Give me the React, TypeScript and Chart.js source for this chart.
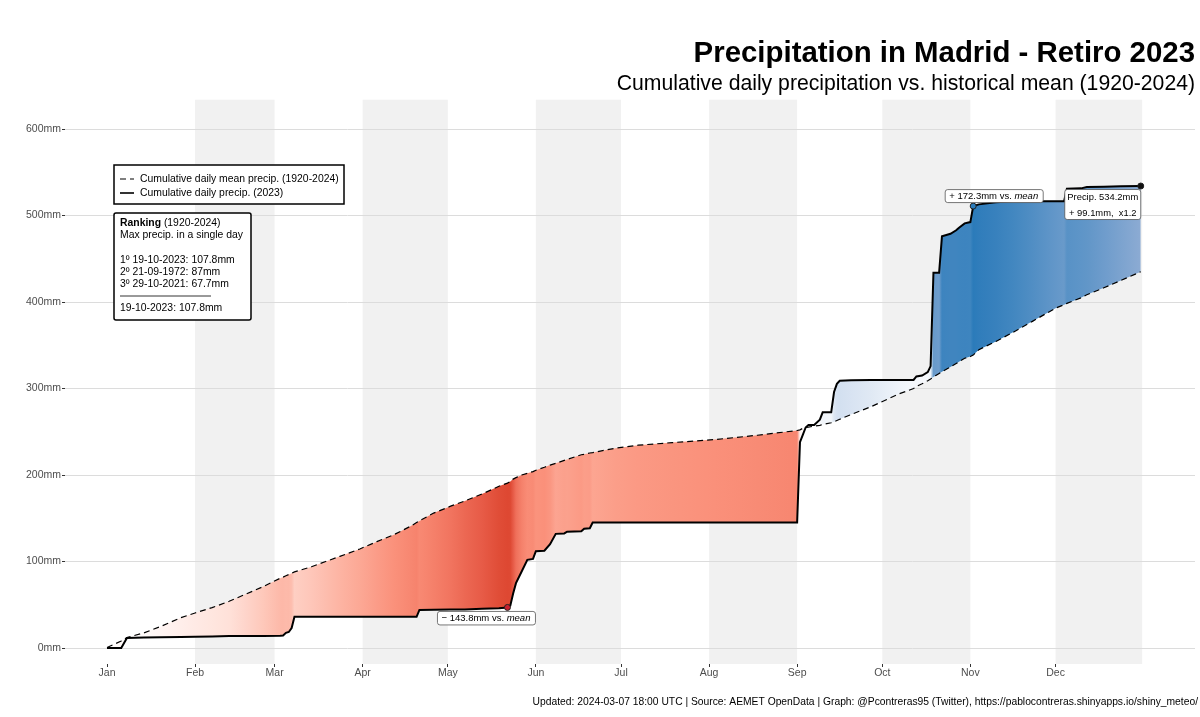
import React, { useEffect, useRef } from 'react';
import { Chart, registerables } from 'chart.js';

Chart.register(...registerables);

const FONT = '"Liberation Sans", Arial, sans-serif';

// day of the year for each reading
const days = [
  1, 6, 8, 14, 20, 27, 32, 38, 44, 50, 56, 62, 63, 64, 65, 66, 67, 73, 78, 83, 90, 96, 102, 108, 110, 111,
  116, 122, 127, 133, 139, 142, 143, 144, 145, 147, 149, 151, 152, 155, 157, 159, 162, 163, 168, 169, 171, 172,
  180, 188, 200, 215, 230, 244, 245, 246, 247, 248, 250, 252, 253, 256, 257, 258, 259, 263, 270, 280, 285, 286,
  288, 290, 291, 292, 293, 294, 295, 298, 300, 301, 303, 305, 306, 308, 314, 320, 327, 335, 338, 339, 344, 346,
  352, 358, 365,
];
const meanPrecip = [
  0.5, 8, 12, 17.5, 25, 35, 40.5, 46.7, 54, 62.5, 71, 80.7, 82, 83.5, 85, 86.5, 88, 94, 100, 106, 114.5, 123, 131, 141, 145, 147,
  156, 164, 170, 178, 187, 190.7, 192.5, 195.3, 197, 200, 202, 204, 205.5, 209, 211.5, 213.5, 217, 218, 223.5, 224, 225.5, 226,
  231, 234.5, 237.5, 241, 246, 251.5, 252.3, 254, 255, 255.5, 256.5, 257.5, 258.5, 260.5, 261.5, 263, 264.5, 270, 279, 294, 300, 302.5,
  305.5, 309, 311, 313.5, 315.5, 317.5, 319.5, 325, 329, 331, 335, 337, 338.7, 345, 354.5, 365, 378, 393, 397, 398.5, 405, 408.5,
  416.5, 425, 435.1,
];
const precip2023 = [
  0, 0, 11.5, 12, 12.3, 12.8, 13, 13.2, 13.8, 14, 14, 14.3, 14.5, 17.5, 18.5, 23, 36, 36, 36, 36, 36, 36, 36, 36, 36, 44,
  44.3, 44.5, 44.5, 45.5, 46, 46.9, 49, 63, 75, 88.5, 102, 103, 112, 112.5, 120, 132, 132.5, 134.5, 135, 138, 138.5, 145,
  145, 145, 145, 145, 145, 145, 238, 246.5, 255, 258, 258, 264, 272.5, 272.5, 296, 305.5, 309, 309.5, 310, 310, 310, 314,
  315, 319, 326, 434, 434, 434, 476, 479, 483, 486, 491, 492.5, 511, 513, 515.5, 516.5, 516.5, 516.5, 516.5, 531, 531.5, 533,
  533.5, 534, 534.2,
];

const monthLabels = ['Jan', 'Feb', 'Mar', 'Apr', 'May', 'Jun', 'Jul', 'Aug', 'Sep', 'Oct', 'Nov', 'Dec'];
const monthDays = [1, 32, 60, 91, 121, 152, 182, 213, 244, 274, 305, 335];
const yTicks = [0, 100, 200, 300, 400, 500, 600];

// shaded months: start and end day
const bandStarts = [32, 91, 152, 213, 274, 335];
const bandEnds = [60, 121, 182, 244, 305, 365.5];

// highlighted readings
const markDays = [142, 306, 365];
const markValues = [46.9, 511, 534.2];
const markColors = ['#c8202f', '#2b7bba', '#111111'];

// diff (mm) -> colour, for the fill between the two lines
const redStops: [number, number[]][] = [
  [0, [255, 255, 255]], [40, [255, 225, 217]], [70, [253, 180, 163]],
  [95, [250, 145, 123]], [115, [244, 125, 103]], [130, [233, 95, 75]], [144, [222, 72, 50]],
];
const blueStops: [number, number[]][] = [
  [0, [255, 255, 255]], [50, [205, 220, 238]], [100, [139, 170, 211]],
  [125, [96, 150, 200]], [172.3, [43, 123, 186]],
];

function diffColor(diff: number) {
  const stops = diff < 0 ? redStops : blueStops;
  const d = Math.abs(diff);
  for (let i = 1; i < stops.length; i++) {
    if (d <= stops[i][0]) {
      const t = (d - stops[i - 1][0]) / (stops[i][0] - stops[i - 1][0]);
      const c = stops[i][1].map((v, k) => Math.round(stops[i - 1][1][k] + (v - stops[i - 1][1][k]) * t));
      return `rgb(${c[0]}, ${c[1]}, ${c[2]})`;
    }
  }
  const c = stops[stops.length - 1][1];
  return `rgb(${c[0]}, ${c[1]}, ${c[2]})`;
}

function diffGradient(context: any) {
  const chart = context.chart;
  const x = chart.scales.x;
  if (!chart.chartArea || !x) return 'transparent';
  const first = days[0];
  const span = days[days.length - 1] - first;
  const g = chart.ctx.createLinearGradient(x.getPixelForValue(first), 0, x.getPixelForValue(first + span), 0);
  days.forEach((d, i) => g.addColorStop((d - first) / span, diffColor(precip2023[i] - meanPrecip[i])));
  return g;
}

function drawRuns(ctx: CanvasRenderingContext2D, x: number, y: number, runs: [string, string][]) {
  let cx = x;
  runs.forEach(([text, font]) => {
    ctx.font = font;
    ctx.fillText(text, cx, y);
    cx += ctx.measureText(text).width;
  });
}

const bandsPlugin = {
  id: 'monthBands',
  beforeDraw(chart: any) {
    const { ctx, chartArea, scales } = chart;
    ctx.save();
    ctx.fillStyle = '#f1f1f1';
    bandStarts.forEach((start, i) => {
      const a = scales.x.getPixelForValue(start);
      const b = scales.x.getPixelForValue(bandEnds[i]);
      ctx.fillRect(a, chartArea.top, b - a, chartArea.bottom - chartArea.top);
    });
    ctx.restore();
  },
};

const notesPlugin = {
  id: 'notes',
  afterDraw(chart: any) {
    const ctx: CanvasRenderingContext2D = chart.ctx;
    const f = (size: number, style = '') => `${style} ${size}px ${FONT}`;
    ctx.save();
    ctx.textBaseline = 'middle';
    ctx.textAlign = 'left';
    ctx.fillStyle = '#000';

    // legend
    ctx.lineWidth = 1.5;
    ctx.strokeStyle = '#000';
    ctx.fillStyle = '#fff';
    ctx.fillRect(114, 165, 230, 39);
    ctx.strokeRect(114, 165, 230, 39);
    ctx.lineWidth = 1.2;
    ctx.setLineDash([6, 4]);
    ctx.beginPath();
    ctx.moveTo(120, 179);
    ctx.lineTo(134, 179);
    ctx.stroke();
    ctx.setLineDash([]);
    ctx.lineWidth = 1.6;
    ctx.beginPath();
    ctx.moveTo(120, 193);
    ctx.lineTo(134, 193);
    ctx.stroke();
    ctx.fillStyle = '#000';
    ctx.font = f(10.4);
    ctx.fillText('Cumulative daily mean precip. (1920-2024)', 140, 179);
    ctx.fillText('Cumulative daily precip. (2023)', 140, 193);

    // ranking box
    ctx.lineWidth = 1.5;
    ctx.fillStyle = '#fff';
    ctx.beginPath();
    ctx.roundRect(114, 213, 137, 107, 2);
    ctx.fill();
    ctx.stroke();
    ctx.fillStyle = '#000';
    drawRuns(ctx, 120, 223, [['Ranking', f(10.4, 'bold')], [' (1920-2024)', f(10.4)]]);
    ctx.font = f(10.4);
    ctx.fillText('Max precip. in a single day', 120, 235);
    ctx.fillText('1º 19-10-2023: 107.8mm', 120, 260);
    ctx.fillText('2º 21-09-1972: 87mm', 120, 272);
    ctx.fillText('3º 29-10-2021: 67.7mm', 120, 284);
    ctx.fillText('19-10-2023: 107.8mm', 120, 308);
    ctx.lineWidth = 0.8;
    ctx.beginPath();
    ctx.moveTo(120, 296);
    ctx.lineTo(211, 296);
    ctx.stroke();

    // labels next to the highlighted readings
    const x = chart.scales.x;
    const y = chart.scales.y;
    const px = markDays.map((d) => x.getPixelForValue(d));
    const py = markValues.map((v) => y.getPixelForValue(v));
    const box = (bx: number, by: number, w: number, h: number) => {
      ctx.fillStyle = '#fff';
      ctx.strokeStyle = '#555';
      ctx.lineWidth = 0.8;
      ctx.beginPath();
      ctx.roundRect(bx, by, w, h, 2.5);
      ctx.fill();
      ctx.stroke();
      ctx.fillStyle = '#000';
    };

    box(px[0] - 70, py[0] + 4, 98, 13.5);
    drawRuns(ctx, px[0] - 66, py[0] + 11, [['− 143.8mm vs. ', f(9.5)], ['mean', f(9.5, 'italic')]]);

    box(px[1] - 28, py[1] - 16.5, 98, 13);
    drawRuns(ctx, px[1] - 24, py[1] - 10, [['+ 172.3mm vs. ', f(9.5)], ['mean', f(9.5, 'italic')]]);

    box(px[2] - 76, py[2] + 3.5, 76, 30);
    ctx.textAlign = 'center';
    ctx.font = f(9.4);
    ctx.fillText('Precip. 534.2mm', px[2] - 38, py[2] + 11);
    ctx.fillText('+ 99.1mm,  x1.2', px[2] - 38, py[2] + 27);

    // caption
    ctx.textAlign = 'right';
    ctx.font = f(10.3);
    ctx.fillText(
      'Updated: 2024-03-07 18:00 UTC | Source: AEMET OpenData | Graph: @Pcontreras95 (Twitter), https://pablocontreras.shinyapps.io/shiny_meteo/',
      1198,
      702
    );
    ctx.restore();
  },
};

export default function App() {
  const canvasRef = useRef<HTMLCanvasElement | null>(null);

  useEffect(() => {
    if (!canvasRef.current) return;
    const chart = new Chart(canvasRef.current, {
      type: 'line',
      data: {
        datasets: [
          {
            label: 'Highlights',
            data: markDays.map((d, i) => ({ x: d, y: markValues[i] })),
            showLine: false,
            pointRadius: 3,
            pointBorderWidth: 1,
            pointBorderColor: '#222',
            pointBackgroundColor: markColors,
          },
          {
            label: 'Cumulative daily precip. (2023)',
            data: days.map((d, i) => ({ x: d, y: precip2023[i] })),
            borderColor: '#000',
            borderWidth: 2,
            pointRadius: 0,
            tension: 0,
            fill: '+1',
            backgroundColor: diffGradient,
          },
          {
            label: 'Cumulative daily mean precip. (1920-2024)',
            data: days.map((d, i) => ({ x: d, y: meanPrecip[i] })),
            borderColor: '#000',
            borderWidth: 1.2,
            borderDash: [6, 4],
            pointRadius: 0,
            tension: 0,
            fill: false,
          },
        ],
      },
      options: {
        responsive: false,
        animation: false,
        layout: { padding: { right: 5 } },
        plugins: {
          legend: { display: false },
          tooltip: { enabled: false },
          filler: { drawTime: 'beforeDatasetsDraw' },
          title: {
            display: true,
            text: 'Precipitation in Madrid - Retiro 2023',
            align: 'end',
            color: '#000',
            font: { family: FONT, size: 29.4, weight: 'bold', lineHeight: 1.2 },
            padding: { top: 36, bottom: 0 },
          },
          subtitle: {
            display: true,
            text: 'Cumulative daily precipitation vs. historical mean (1920-2024)',
            align: 'end',
            color: '#000',
            font: { family: FONT, size: 21.2, lineHeight: 1.2 },
            padding: { top: 0, bottom: 3 },
          },
        },
        scales: {
          x: {
            type: 'linear',
            min: -13.8,
            max: 384.1,
            afterBuildTicks: (axis: any) => {
              axis.ticks = monthDays.map((value) => ({ value }));
            },
            afterFit: (axis: any) => {
              axis.height = 53;
            },
            grid: { drawOnChartArea: false, tickLength: 3, tickColor: '#333' },
            border: { display: false },
            ticks: {
              autoSkip: false,
              maxRotation: 0,
              padding: 0,
              color: '#4d4d4d',
              font: { family: FONT, size: 10.5 },
              callback: (value: any) => monthLabels[monthDays.indexOf(value)],
            },
          },
          y: {
            type: 'linear',
            min: -18.5,
            max: 634,
            afterBuildTicks: (axis: any) => {
              axis.ticks = yTicks.map((value) => ({ value }));
            },
            afterFit: (axis: any) => {
              axis.width = 65;
            },
            grid: { color: '#dcdcdc', lineWidth: 1, tickLength: 3, tickColor: '#333' },
            border: { display: false },
            ticks: {
              padding: 1,
              color: '#4d4d4d',
              font: { family: FONT, size: 10.5 },
              callback: (value: any) => `${value}mm`,
            },
          },
        },
      },
      plugins: [bandsPlugin, notesPlugin],
    } as any);

    return () => chart.destroy();
  }, []);

  return (
    <div style={{ position: 'absolute', left: 0, top: 0, width: 1200, height: 717, background: '#fff' }}>
      <canvas ref={canvasRef} width={1200} height={717} style={{ display: 'block' }} />
    </div>
  );
}
